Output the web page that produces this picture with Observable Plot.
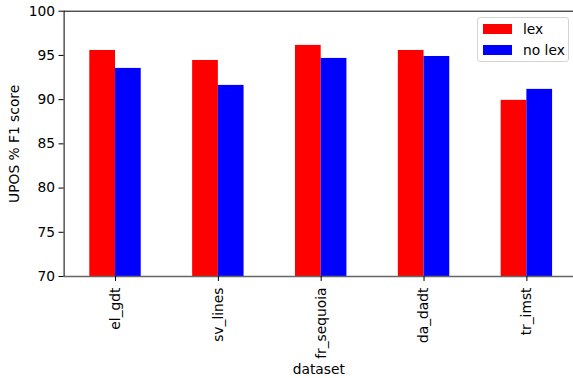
<!DOCTYPE html>
<html>
<head>
<meta charset="utf-8">
<script src="https://cdn.jsdelivr.net/npm/d3@7"></script>
<script src="https://cdn.jsdelivr.net/npm/@observablehq/plot@0.6"></script>
<style>
  body { margin: 0; background: #fff; font-family: "DejaVu Sans", sans-serif; }
  #chart { position: relative; width: 573px; height: 378px; overflow: hidden; }
  #legend {
    position: absolute; left: 477px; top: 17px; width: 92px; height: 45px;
    border: 1px solid #d4d4d4; border-radius: 3px; background: rgba(255,255,255,0.8);
    box-sizing: border-box; font-size: 13.8px; color: #000;
  }
  .item { position: absolute; left: 5px; height: 10px; }
  .swatch { position: absolute; left: 0; top: 0; width: 29px; height: 10px; }
  .name { position: absolute; left: 40px; top: -4px; white-space: nowrap; line-height: 18px; }
</style>
</head>
<body>
<div id="chart"></div>
<script>
// UPOS F1 scores per treebank, with and without the lexicon
const datasets = ["el_gdt", "sv_lines", "fr_sequoia", "da_dadt", "tr_imst"];
const lex = [95.56, 94.43, 96.13, 95.56, 89.92];
const noLex = [93.53, 91.61, 94.66, 94.88, 91.16];
const series = ["lex", "no lex"];
const colors = ["red", "blue"];
const yTicks = [70, 75, 80, 85, 90, 95, 100];

// one row per bar; bars of a group sit side by side, each a quarter of the category step
const rows = datasets.flatMap((d, i) => [
  {dataset: d, i, series: series[0], value: lex[i], k: 0},
  {dataset: d, i, series: series[1], value: noLex[i], k: 1}
]);
const barW = 0.25;

const plot = Plot.plot({
  width: 573,
  height: 378,
  marginLeft: 63.5,
  marginRight: 0,
  marginTop: 10.7,
  marginBottom: 102,
  style: {fontFamily: "DejaVu Sans", fontSize: "13.8px", color: "#000", background: "#fff"},
  x: {type: "linear", domain: [-0.5, datasets.length - 0.5], range: [63.6, 577.8]},
  y: {domain: [70, 100]},
  color: {domain: series, range: colors},
  marks: [
    Plot.rectY(rows, {
      x1: d => d.i - barW + d.k * barW,
      x2: d => d.i + d.k * barW,
      y1: 70,
      y2: "value",
      fill: "series"
    }),
    Plot.ruleY([70], {stroke: "#666", strokeWidth: 1.6}),
    Plot.ruleY([100], {stroke: "#000", strokeWidth: 1}),
    Plot.ruleX([-0.5], {stroke: "#000", strokeWidth: 1}),
    Plot.axisY({
      ticks: yTicks, tickSize: 5, tickPadding: 4,
      label: "UPOS % F1 score", labelAnchor: "center", labelArrow: "none", labelOffset: 55
    }),
    Plot.axisX({
      ticks: d3.range(datasets.length), tickFormat: i => datasets[i],
      tickRotate: -90, tickSize: 5, tickPadding: 6,
      label: "dataset", labelAnchor: "center", labelArrow: "none", labelOffset: 97
    })
  ]
});

const chart = document.getElementById("chart");
chart.appendChild(plot);

// legend box in the upper right of the axes
const legend = document.createElement("div");
legend.id = "legend";
series.forEach((s, j) => {
  const item = document.createElement("div");
  item.className = "item";
  item.style.top = (6 + j * 21) + "px";
  const sw = document.createElement("div");
  sw.className = "swatch";
  sw.style.background = colors[j];
  const nm = document.createElement("div");
  nm.className = "name";
  nm.textContent = s;
  item.appendChild(sw);
  item.appendChild(nm);
  legend.appendChild(item);
});
chart.appendChild(legend);
</script>
</body>
</html>
